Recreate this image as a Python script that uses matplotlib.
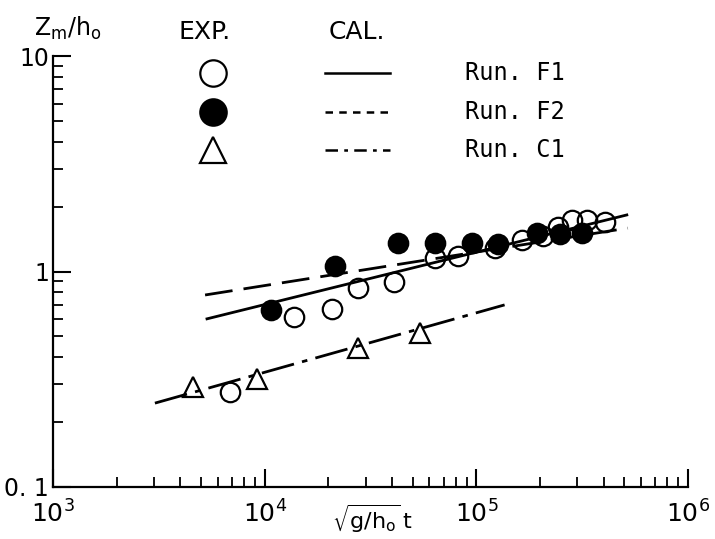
import matplotlib
matplotlib.use('Agg')
import matplotlib.pyplot as plt
from matplotlib.lines import Line2D

# experimental points, Run F1 (open circles)
f1_x = [6860, 13750, 20800, 27600, 40800, 63700, 81900, 122000, 164000, 206000, 243000, 283000, 333000, 405000]
f1_y = [0.276, 0.615, 0.67, 0.838, 0.894, 1.156, 1.18, 1.29, 1.40, 1.46, 1.61, 1.73, 1.73, 1.70]
# Run F2 (filled circles)
f2_x = [10710, 21500, 42600, 63700, 95300, 126000, 193000, 248000, 315000]
f2_y = [0.663, 1.06, 1.36, 1.36, 1.36, 1.34, 1.51, 1.49, 1.51]
# Run C1 (triangles)
c1_x = [4585, 9200, 27600, 54200]
c1_y = [0.291, 0.317, 0.441, 0.519]

# calculated lines (end points)
f1_cal_x = [5340, 514000]
f1_cal_y = [0.603, 1.83]
f2_cal_x = [5230, 520000]
f2_cal_y = [0.778, 1.59]
c1_cal_x = [3030, 136000]
c1_cal_y = [0.245, 0.70]

run_names = ['Run. F1', 'Run. F2', 'Run. C1']
xtick_vals = [1e3, 1e4, 1e5, 1e6]
xtick_labels = [r'$\mathregular{10^3}$', r'$\mathregular{10^4}$', r'$\mathregular{10^5}$', r'$\mathregular{10^6}$']
ytick_vals = [0.1, 1, 10]
ytick_labels = ['0. 1', '1', '10']

W, H = 715, 539
fig = plt.figure(figsize=(W / 100, H / 100), dpi=100)
ax = fig.add_axes([53 / W, 1 - 487 / H, 635 / W, 431 / H])
ax.set_xscale('log')
ax.set_yscale('log')
ax.set_xlim(1e3, 1e6)
ax.set_ylim(0.1, 10)

ax.spines['top'].set_visible(False)
ax.spines['right'].set_visible(False)
ax.spines['left'].set_linewidth(1.6)
ax.spines['bottom'].set_linewidth(1.6)

ax.tick_params(which='major', direction='in', length=13, width=1.5)
ax.tick_params(which='minor', direction='in', length=7, width=1.3)
ax.set_xticks(xtick_vals)
ax.set_xticklabels(xtick_labels, fontsize=18)
ax.tick_params(axis='x', pad=10)
ax.set_yticks(ytick_vals)
ax.set_yticklabels(ytick_labels, fontsize=17)
ax.tick_params(axis='y', pad=3)

lw = 2.0
ax.plot(f1_cal_x, f1_cal_y, color='black', lw=lw, linestyle='-')
ax.plot(f2_cal_x, f2_cal_y, color='black', lw=lw, linestyle=(0, (10, 4)))
ax.plot(c1_cal_x, c1_cal_y, color='black', lw=lw, linestyle=(0, (12, 3, 2, 3)))

ms = 14
ax.plot(f1_x, f1_y, 'o', ms=ms, mfc='none', mec='black', mew=1.6)
ax.plot(f2_x, f2_y, 'o', ms=ms, mfc='black', mec='black', mew=1.6)
ax.plot(c1_x, c1_y, '^', ms=ms, mfc='none', mec='black', mew=1.6)

# x label
fig.text(372 / W, 1 - 519 / H, r'$\sqrt{\mathregular{g/h_o}}\,\mathregular{t}$', fontsize=16,
         ha='center', va='center')
# y label
fig.text(68 / W, 1 - 28 / H, r'$\mathregular{Z_m/h_o}$', fontsize=17, ha='center', va='center')

# legend table
fig.text(205 / W, 1 - 32 / H, 'EXP.', fontsize=18, ha='center', va='center')
fig.text(357 / W, 1 - 32 / H, 'CAL.', fontsize=18, ha='center', va='center')
rows_y = [73, 112, 150]
mk_styles = [dict(marker='o', mfc='none'), dict(marker='o', mfc='black'), dict(marker='^', mfc='none')]
line_styles = ['-', (0, (3, 2.5)), (0, (5, 2.5, 1.5, 2.5))]
for i in range(3):
    fy = 1 - rows_y[i] / H
    fig.add_artist(Line2D([213 / W], [fy], linestyle='none', ms=19, mec='black', mew=1.6,
                          transform=fig.transFigure, **mk_styles[i]))
    fig.add_artist(Line2D([325 / W, 390 / W], [fy, fy], color='black', lw=1.8,
                          linestyle=line_styles[i], transform=fig.transFigure))
    fig.text(465 / W, fy, run_names[i], fontsize=17, fontfamily='DejaVu Sans Mono',
             ha='left', va='center')

fig.savefig('out.png', dpi=100)
